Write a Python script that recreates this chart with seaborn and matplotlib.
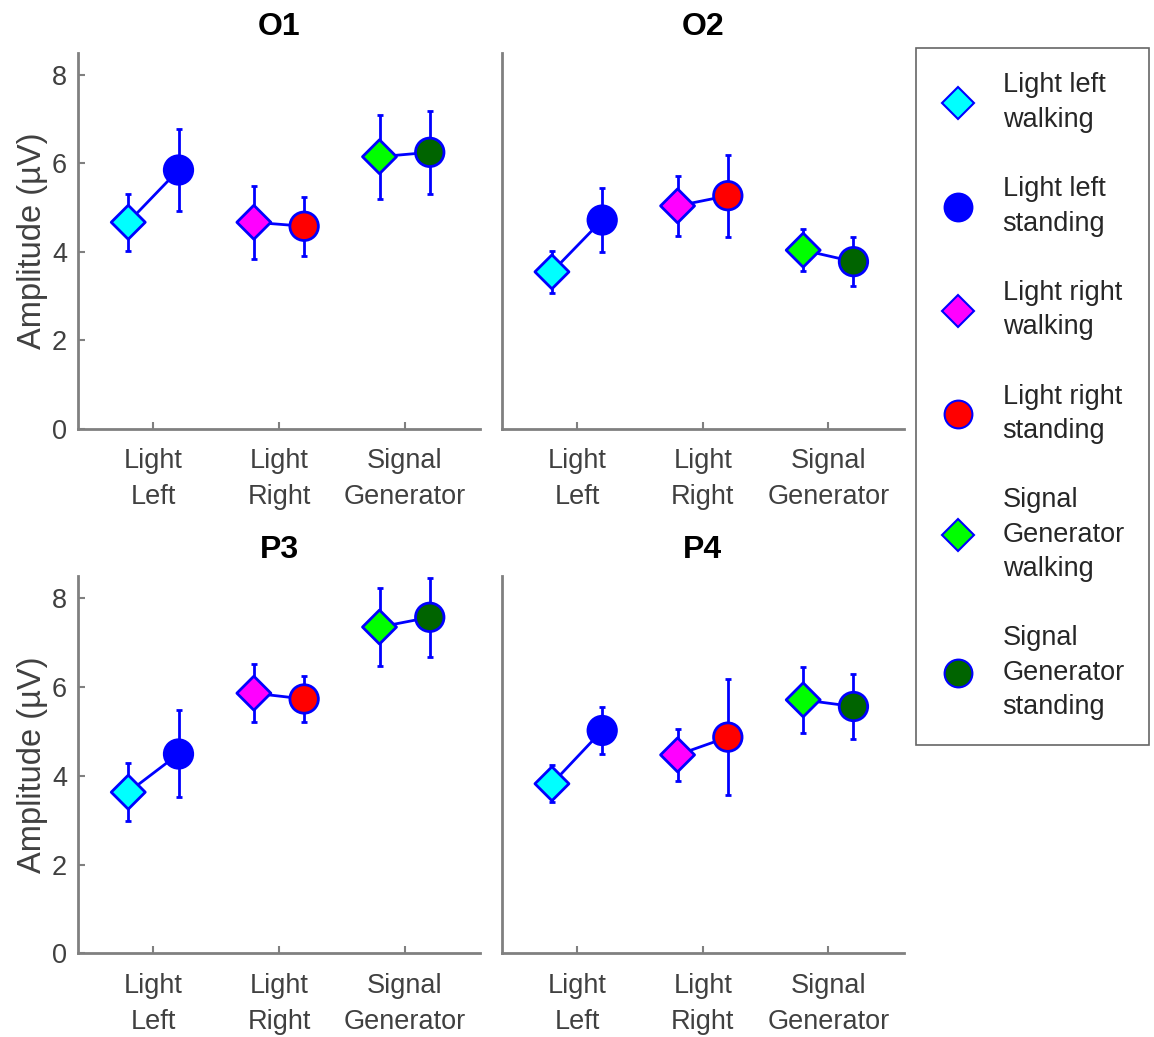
import numpy as np
import pandas as pd
import seaborn as sns
import matplotlib
matplotlib.use("Agg")
import matplotlib.pyplot as plt
from matplotlib.lines import Line2D

sns.set_theme(style="white")
plt.rcParams["font.family"] = ["Liberation Sans", "DejaVu Sans"]

conditions = ["Light Left", "Light Right", "Signal Generator"]
tick_labels = ["Light\nLeft", "Light\nRight", "Signal\nGenerator"]
channels = ["O1", "O2", "P3", "P4"]

# mean amplitude (uV) and error, walking / standing per condition
o1_walk = [4.67, 4.67, 6.15]
o1_walk_err = [0.64, 0.82, 0.95]
o1_stand = [5.85, 4.58, 6.25]
o1_stand_err = [0.92, 0.67, 0.94]

o2_walk = [3.55, 5.04, 4.04]
o2_walk_err = [0.47, 0.68, 0.48]
o2_stand = [4.72, 5.27, 3.78]
o2_stand_err = [0.72, 0.93, 0.55]

p3_walk = [3.63, 5.86, 7.35]
p3_walk_err = [0.65, 0.65, 0.88]
p3_stand = [4.49, 5.73, 7.57]
p3_stand_err = [0.98, 0.52, 0.89]

p4_walk = [3.82, 4.47, 5.71]
p4_walk_err = [0.42, 0.59, 0.75]
p4_stand = [5.02, 4.87, 5.56]
p4_stand_err = [0.52, 1.31, 0.73]

legend_labels = ["Light left\nwalking", "Light left\nstanding",
                 "Light right\nwalking", "Light right\nstanding",
                 "Signal\nGenerator\nwalking", "Signal\nGenerator\nstanding"]
walk_colors = ["#00ffff", "#ff00ff", "#00ff00"]
stand_colors = ["#0000ff", "#ff0000", "#006400"]

data = {
    "O1": (o1_walk, o1_walk_err, o1_stand, o1_stand_err),
    "O2": (o2_walk, o2_walk_err, o2_stand, o2_stand_err),
    "P3": (p3_walk, p3_walk_err, p3_stand, p3_stand_err),
    "P4": (p4_walk, p4_walk_err, p4_stand, p4_stand_err),
}

W, H = 1154, 1037
fig = plt.figure(figsize=(W / 100, H / 100), dpi=100)

def px_axes(x0, y0, x1, y1):
    return fig.add_axes([x0 / W, 1 - y1 / H, (x1 - x0) / W, (y1 - y0) / H])

boxes = {
    "O1": (78, 52.7, 480, 429),
    "O2": (501.7, 52.7, 903.7, 429),
    "P3": (78, 576, 480, 953.3),
    "P4": (501.7, 576, 903.7, 953.3),
}

text_col = "#404040"
spine_col = "#808080"
off = 0.2

for ch in channels:
    ax = px_axes(*boxes[ch])
    walk, walk_err, stand, stand_err = data[ch]
    rows = []
    for i, cond in enumerate(conditions):
        rows.append(dict(cond=cond, x=i + 1 - off, amp=walk[i], err=walk_err[i],
                         kind="walking", color=walk_colors[i]))
        rows.append(dict(cond=cond, x=i + 1 + off, amp=stand[i], err=stand_err[i],
                         kind="standing", color=stand_colors[i]))
    df = pd.DataFrame(rows)

    sns.lineplot(data=df, x="x", y="amp", units="cond", estimator=None,
                 color="blue", lw=2, ax=ax, legend=False, zorder=2)
    ax.errorbar(df["x"], df["amp"], yerr=df["err"], fmt="none",
                ecolor="blue", elinewidth=2, capsize=2, capthick=2, zorder=2)
    for kind, mk, sz in [("walking", "D", 300), ("standing", "o", 420)]:
        sub = df[df["kind"] == kind]
        sns.scatterplot(data=sub, x="x", y="amp", hue="cond",
                        palette=list(sub["color"]), marker=mk, s=sz,
                        edgecolor="blue", linewidth=2, ax=ax, legend=False,
                        zorder=3)

    ax.set_xlim(0.4, 3.6)
    ax.set_ylim(0, 8.5)
    ax.set_xticks([1, 2, 3])
    ax.set_xticklabels(tick_labels, linespacing=1.5)
    ax.set_xlabel("")
    ax.set_title(ch, fontsize=23, fontweight="bold", color="black", pad=13)
    for s in ["top", "right"]:
        ax.spines[s].set_visible(False)
    for s in ["left", "bottom"]:
        ax.spines[s].set_color(spine_col)
        ax.spines[s].set_linewidth(2)
    ax.tick_params(axis="both", direction="in", length=5, width=1.5,
                   color=spine_col, labelsize=19.5, labelcolor=text_col, pad=8)
    ax.tick_params(axis="x", bottom=True, pad=14)
    if ch in ("O1", "P3"):
        ax.set_yticks([0, 2, 4, 6, 8])
        ax.tick_params(axis="y", left=True)
        ax.set_ylabel("Amplitude (\u00b5V)", fontsize=23.5, color=text_col, labelpad=3)
    else:
        ax.set_yticks([])
        ax.set_ylabel("")

handles = []
for i in range(3):
    handles.append(Line2D([], [], ls="none", marker="D", ms=16.5, mfc=walk_colors[i],
                          mec="blue", mew=1.5))
    handles.append(Line2D([], [], ls="none", marker="o", ms=20, mfc=stand_colors[i],
                          mec="blue", mew=1.5))
leg = fig.legend(handles, legend_labels, loc="upper left",
                 bbox_to_anchor=(916 / W, 1 - 48 / H), fontsize=19.5,
                 frameon=True, fancybox=False, edgecolor="#404040",
                 handlelength=1.3, handletextpad=1.0, labelspacing=1.6,
                 borderpad=0.9, borderaxespad=0)
leg.get_frame().set_linewidth(1.2)
for t in leg.get_texts():
    t.set_color("#262626")
    t.set_linespacing(1.42)

fig.savefig("out.png", dpi=100)
